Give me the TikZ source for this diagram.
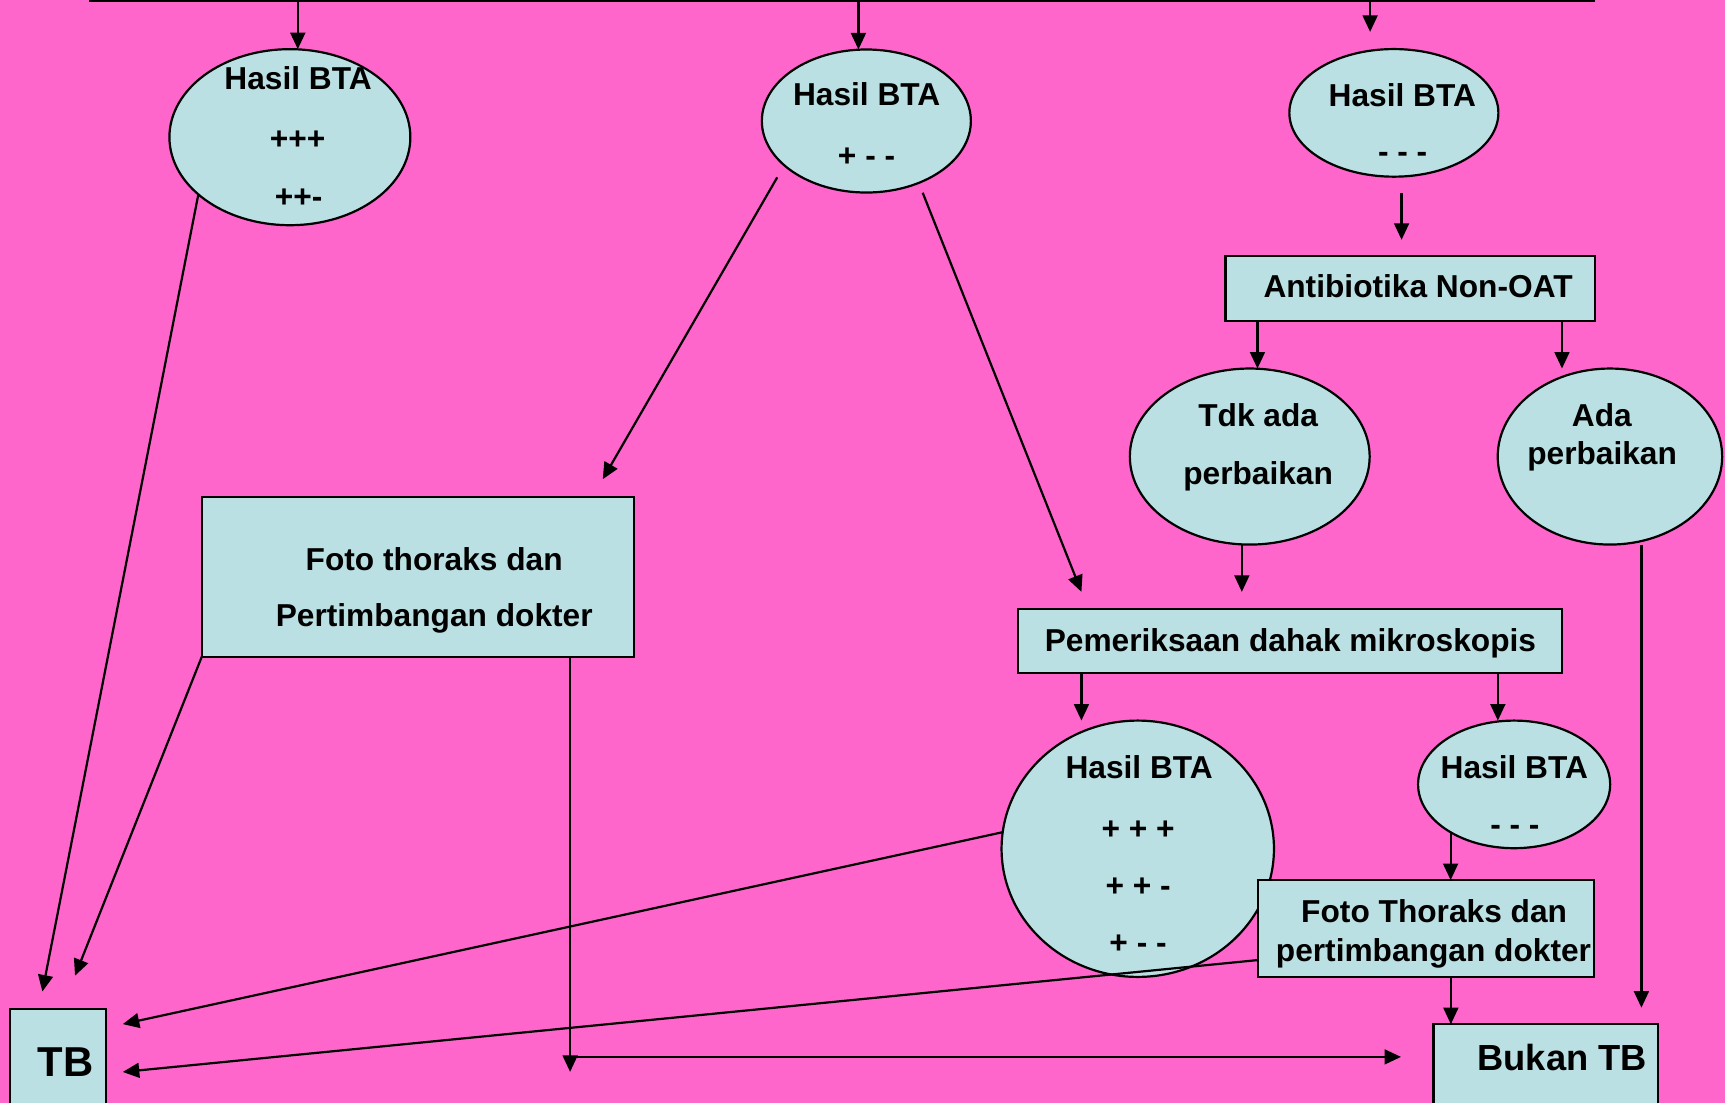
\documentclass[tikz,border=0pt]{standalone}
\usepackage{fontspec}
\setmainfont{Liberation Sans}
\usetikzlibrary{arrows.meta,calc,shapes.geometric}
\definecolor{bgpink}{RGB}{255,102,204}
\definecolor{boxfill}{RGB}{187,224,227}
\begin{document}
\begin{tikzpicture}[x=1pt,y=-1pt,
  shp/.style={draw=black, line width=2pt, fill=boxfill, inner sep=0pt, outer sep=0pt},
  ell/.style={shp, ellipse},
  rect/.style={shp, rectangle},
  lbl/.style={inner sep=0pt, font=\bfseries\fontsize{28.8}{34}\selectfont, text height=20.6pt, text depth=0pt},
  conn/.style={line width=2pt, draw=black},
  arr/.style={conn, -{Triangle[length=15pt,width=13.5pt]}}
]
\useasboundingbox (0,0) rectangle (1568,1002.6);
\clip (0,0) rectangle (1568,1002.6);
\fill[bgpink] (0,0) rectangle (1568,1002.6);

% shapes
\node[ell, minimum width=219, minimum height=160] (e1) at (263.5,124.7) {};
\node[ell, minimum width=190, minimum height=130] (e2) at (787.5,110) {};
\node[ell, minimum width=190, minimum height=116] (e3) at (1267,102.6) {};
\node[rect, minimum width=335.5, minimum height=59] (anti) at (1281.75,262.5) {};
\node[ell, minimum width=218, minimum height=160] (tdk) at (1136,415) {};
\node[ell, minimum width=204, minimum height=160] (ada) at (1463.4,415) {};
\node[rect, minimum width=392.9, minimum height=145.5] (foto1) at (379.85,524.25) {};
\node[rect, minimum width=495, minimum height=58.2] (pem) at (1172.5,582.4) {};
\node[ell, minimum width=247.6, minimum height=233] (big) at (1034.2,771.5) {};
\node[ell, minimum width=174.6, minimum height=116] (e5) at (1376.3,713) {};
\node[rect, minimum width=305.8, minimum height=88] (foto2) at (1296.1,844) {};
\node[rect, minimum width=204.2, minimum height=149] (bukan) at (1405.1,1005.5) {};
\node[rect, minimum width=87.7, minimum height=162.7] (tb) at (52.75,998.65) {};

% texts
\node[lbl] (e1a) at (271,71.5) {Hasil BTA};
\node[lbl] (e1b) at (270.5,126) {+++};
\node[lbl] (e1c) at (271.4,178) {++-};
\node[lbl] (e2a) at (787.8,86) {Hasil BTA};
\node[lbl] (e2b) at (787.7,141) {+ - -};
\node[lbl] (e3a) at (1274.7,86.5) {Hasil BTA};
\node[lbl] (e3b) at (1275,137) {- - -};
\node[lbl] (antit) at (1289,260.5) {Antibiotika Non-OAT};
\node[lbl] (tdka) at (1143.7,377.5) {Tdk ada};
\node[lbl] (tdkb) at (1143.6,430) {perbaikan};
\node[lbl] (adaa) at (1456,377) {Ada};
\node[lbl] (adab) at (1456.3,412.3) {perbaikan};
\node[lbl] (f1a) at (394.7,508.5) {Foto thoraks dan};
\node[lbl] (f1b) at (394.7,559.6) {Pertimbangan dokter};
\node[lbl] (pemt) at (1173,581.8) {Pemeriksaan dahak mikroskopis};
\node[lbl] (bga) at (1035.5,697) {Hasil BTA};
\node[lbl] (bgb) at (1034.5,753) {+ + +};
\node[lbl] (bgc) at (1034.5,804.5) {+ + -};
\node[lbl] (bgd) at (1034.5,856) {+ - -};
\node[lbl] (e5a) at (1376.5,697) {Hasil BTA};
\node[lbl] (e5b) at (1377,749) {- - -};
\node[lbl] (f2a) at (1303.6,828) {Foto Thoraks dan};
\node[lbl] (f2b) at (1303,863.6) {pertimbangan dokter};
\node[lbl, font=\bfseries\fontsize{33}{40}\selectfont, text height=23.6pt] (bukt) at (1420,961) {Bukan TB};
\node[lbl, font=\bfseries\fontsize{38}{45}\selectfont, text height=27.2pt] (tbt) at (59.5,965) {TB};

% coordinates
\coordinate (tl) at (81,0.9);
\coordinate (tr) at (1449.8,0.9);
\coordinate (t1) at (270.7,0.9);
\coordinate (t2) at (780.3,0.9);
\coordinate (t3) at (1245.4,0.9);
\coordinate (t3e) at (1245.4,29);
\coordinate (x6) at (1143,0);
\coordinate (x7) at (1419.8,0);
\coordinate (x8) at (1128.8,0);
\coordinate (x9) at (1492,0);
\coordinate (x10) at (983,0);
\coordinate (x11) at (1361.5,0);
\coordinate (x13) at (1318.8,0);
\coordinate (x16) at (518.2,0);
\coordinate (j1) at (518.2,974.3);
\coordinate (j2) at (518.2,960.7);

% connectors
\draw[conn] (tl) -- (tr);
\draw[arr] (t1) -- (t1 |- e1.north);
\draw[arr] (t2) -- (t2 |- e2.north);
\draw[arr] (t3) -- (t3e);
\draw[arr] ($(e3.south)+(7,14.7)$) -- ($(anti.north)+(-7.75,-15)$);
\draw[arr] (anti.south -| x6) -- (tdk.north -| x6);
\draw[arr] (anti.south -| x7) -- (ada.north -| x7);
\draw[arr] (tdk.south -| x8) -- ($(pem.north -| x8)+(0,-15.3)$);
\draw[arr] (ada.south -| x9) -- ($(bukan.north -| x9)+(0,-15)$);
\draw[arr] (pem.south -| x10) -- (big.north -| x10);
\draw[arr] (pem.south -| x11) -- (e5.north -| x11);
\draw[arr] (e5.217.2) -- (e5.217.2 |- foto2.north);
\draw[arr] (foto2.south -| x13) -- (bukan.north -| x13);
\draw[arr] (e1.212.2) -- ($(tb.north west)+(29.6,-16)$);
\draw[arr] (foto1.south west) -- ($(tb.north west)+(59.3,-30.4)$);
\draw[arr] (foto1.south -| x16) -- (j1);
\draw[arr] (j2) -- ($(bukan.north west)+(-29.5,29.7)$);
\draw[arr] (big.173.3) -- ($(tb.north east)+(15,13.6)$);
\draw[arr] ($(foto2.south west)+(0,-15.3)$) -- ($(tb.north east)+(15,57.1)$);
\draw[arr] ($(e2.center)+(-81,51.2)$) -- ($(foto1.north east)+(-28.4,-15.9)$);
\draw[arr] ($(e2.center)+(51.2,65.2)$) -- ($(pem.north west)+(58,-15.3)$);
\end{tikzpicture}
\end{document}
